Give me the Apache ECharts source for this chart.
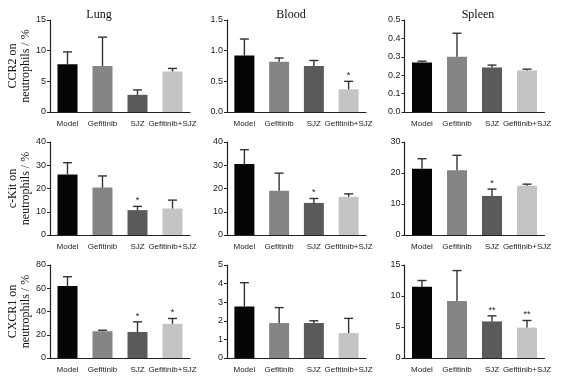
<!DOCTYPE html>
<html>
<head>
<meta charset="utf-8">
<script src="https://cdn.jsdelivr.net/npm/echarts@6/dist/echarts.min.js"></script>
<style>
  html, body { margin: 0; padding: 0; background: #fff; }
  #chart { width: 566px; height: 377px; }
</style>
</head>
<body>
<div id="chart"></div>
<script>
// groups on the x axis
var categories = ['Model', 'Gefitinib', 'SJZ', 'Gefitinib+SJZ'];
var tissues = ['Lung', 'Blood', 'Spleen'];
var markers = ['CCR2', 'c-Kit', 'CXCR1'];

// CCR2
var lungCcr2 = [7.8, 7.5, 2.8, 6.6];
var lungCcr2Sd = [2.0, 4.7, 0.8, 0.5];
var lungCcr2Star = ['', '', '', ''];
var bloodCcr2 = [0.92, 0.82, 0.75, 0.37];
var bloodCcr2Sd = [0.27, 0.06, 0.09, 0.13];
var bloodCcr2Star = ['', '', '', '*'];
var spleenCcr2 = [0.269, 0.30, 0.242, 0.226];
var spleenCcr2Sd = [0.007, 0.128, 0.013, 0.007];
var spleenCcr2Star = ['', '', '', ''];

// c-Kit
var lungCkit = [26.0, 20.4, 10.7, 11.4];
var lungCkitSd = [5.1, 5.0, 1.6, 3.6];
var lungCkitStar = ['', '', '*', ''];
var bloodCkit = [30.5, 19.0, 13.8, 16.4];
var bloodCkitSd = [6.2, 7.6, 1.9, 1.3];
var bloodCkitStar = ['', '', '*', ''];
var spleenCkit = [21.4, 20.9, 12.6, 15.9];
var spleenCkitSd = [3.2, 4.8, 2.2, 0.5];
var spleenCkitStar = ['', '', '*', ''];

// CXCR1
var lungCxcr1 = [61.9, 23.0, 22.4, 29.4];
var lungCxcr1Sd = [8.0, 0.9, 8.7, 4.6];
var lungCxcr1Star = ['', '', '*', '*'];
var bloodCxcr1 = [2.77, 1.88, 1.88, 1.34];
var bloodCxcr1Sd = [1.28, 0.83, 0.12, 0.79];
var bloodCxcr1Star = ['', '', '', ''];
var spleenCxcr1 = [11.5, 9.2, 5.9, 4.9];
var spleenCxcr1Sd = [1.0, 4.9, 0.9, 1.15];
var spleenCxcr1Star = ['', '', '**', '**'];

// y axis ranges: [max, interval, decimals]
var yScales = [
  [15, 5, 0], [1.5, 0.5, 1], [0.5, 0.1, 1],
  [40, 10, 0], [40, 10, 0], [30, 10, 0],
  [80, 20, 0], [5, 1, 0], [15, 5, 0]
];

var panels = [
  [lungCcr2, lungCcr2Sd, lungCcr2Star], [bloodCcr2, bloodCcr2Sd, bloodCcr2Star], [spleenCcr2, spleenCcr2Sd, spleenCcr2Star],
  [lungCkit, lungCkitSd, lungCkitStar], [bloodCkit, bloodCkitSd, bloodCkitStar], [spleenCkit, spleenCkitSd, spleenCkitStar],
  [lungCxcr1, lungCxcr1Sd, lungCxcr1Star], [bloodCxcr1, bloodCxcr1Sd, bloodCxcr1Star], [spleenCxcr1, spleenCxcr1Sd, spleenCxcr1Star]
];

var barColors = ['#050505', '#858585', '#5a5a5a', '#c4c4c4'];
var colLeft = [50, 227, 404.5];
var colWidth = [140, 139, 140];
var rowTop = [20, 142, 265];
var rowHeight = [92, 93, 93];
var titleX = [94, 286, 473];

var myChart = echarts.init(document.getElementById('chart'));

var grids = [], xAxes = [], yAxes = [], series = [], titles = [];

tissues.forEach(function (t, c) {
  titles.push({
    text: t, left: titleX[c], top: 4, textAlign: 'center',
    textStyle: { fontFamily: 'Liberation Serif', fontSize: 12, fontWeight: 'normal', color: '#111' }
  });
});

panels.forEach(function (p, i) {
  var r = Math.floor(i / 3), c = i % 3;
  var sc = yScales[i];
  grids.push({ left: colLeft[c], top: rowTop[r], width: colWidth[c], height: rowHeight[r] });
  xAxes.push({
    type: 'category', gridIndex: i, data: categories,
    axisLine: { lineStyle: { color: '#222', width: 1.2 } },
    axisTick: { show: false },
    axisLabel: { interval: 0, fontFamily: 'Liberation Sans', fontSize: 8, color: '#222', margin: 8 }
  });
  yAxes.push({
    type: 'value', gridIndex: i, min: 0, max: sc[0], interval: sc[1],
    splitLine: { show: false },
    axisLine: { show: true, lineStyle: { color: '#222', width: 1.2 } },
    axisTick: { show: true, length: 3, lineStyle: { color: '#222' } },
    axisLabel: {
      fontFamily: 'Liberation Sans', fontSize: 9, color: '#222', margin: 4,
      formatter: function (v) { return v.toFixed(sc[2]); }
    },
    name: c === 0 ? markers[r] + ' on\nneutrophils / %' : '',
    nameLocation: 'middle', nameRotate: 90, nameGap: 18,
    nameTextStyle: { fontFamily: 'Liberation Serif', fontSize: 12, lineHeight: 13, color: '#111', align: 'center' }
  });
  series.push({
    type: 'bar', xAxisIndex: i, yAxisIndex: i, barWidth: 20,
    data: p[0].map(function (v, k) { return { value: v, itemStyle: { color: barColors[k] } }; })
  });
  series.push({
    type: 'custom', xAxisIndex: i, yAxisIndex: i, z: 3,
    data: p[0].map(function (v, k) { return [k, v, v + p[1][k]]; }),
    renderItem: function (params, api) {
      var base = api.coord([api.value(0), api.value(1)]);
      var top = api.coord([api.value(0), api.value(2)]);
      var star = p[2][params.dataIndex];
      var style = { stroke: '#333', lineWidth: 1.4 };
      var kids = [
        { type: 'line', shape: { x1: base[0], y1: base[1], x2: top[0], y2: top[1] }, style: style },
        { type: 'line', shape: { x1: top[0] - 4.5, y1: top[1], x2: top[0] + 4.5, y2: top[1] }, style: style }
      ];
      if (star) {
        kids.push({
          type: 'text', x: top[0], y: top[1] - 1,
          style: { text: star, fontSize: 9, fontFamily: 'Liberation Sans', fill: '#222', align: 'center', verticalAlign: 'bottom' }
        });
      }
      return { type: 'group', children: kids };
    }
  });
});

myChart.setOption({
  backgroundColor: '#fff',
  animation: false,
  title: titles,
  grid: grids,
  xAxis: xAxes,
  yAxis: yAxes,
  series: series
});
</script>
</body>
</html>
